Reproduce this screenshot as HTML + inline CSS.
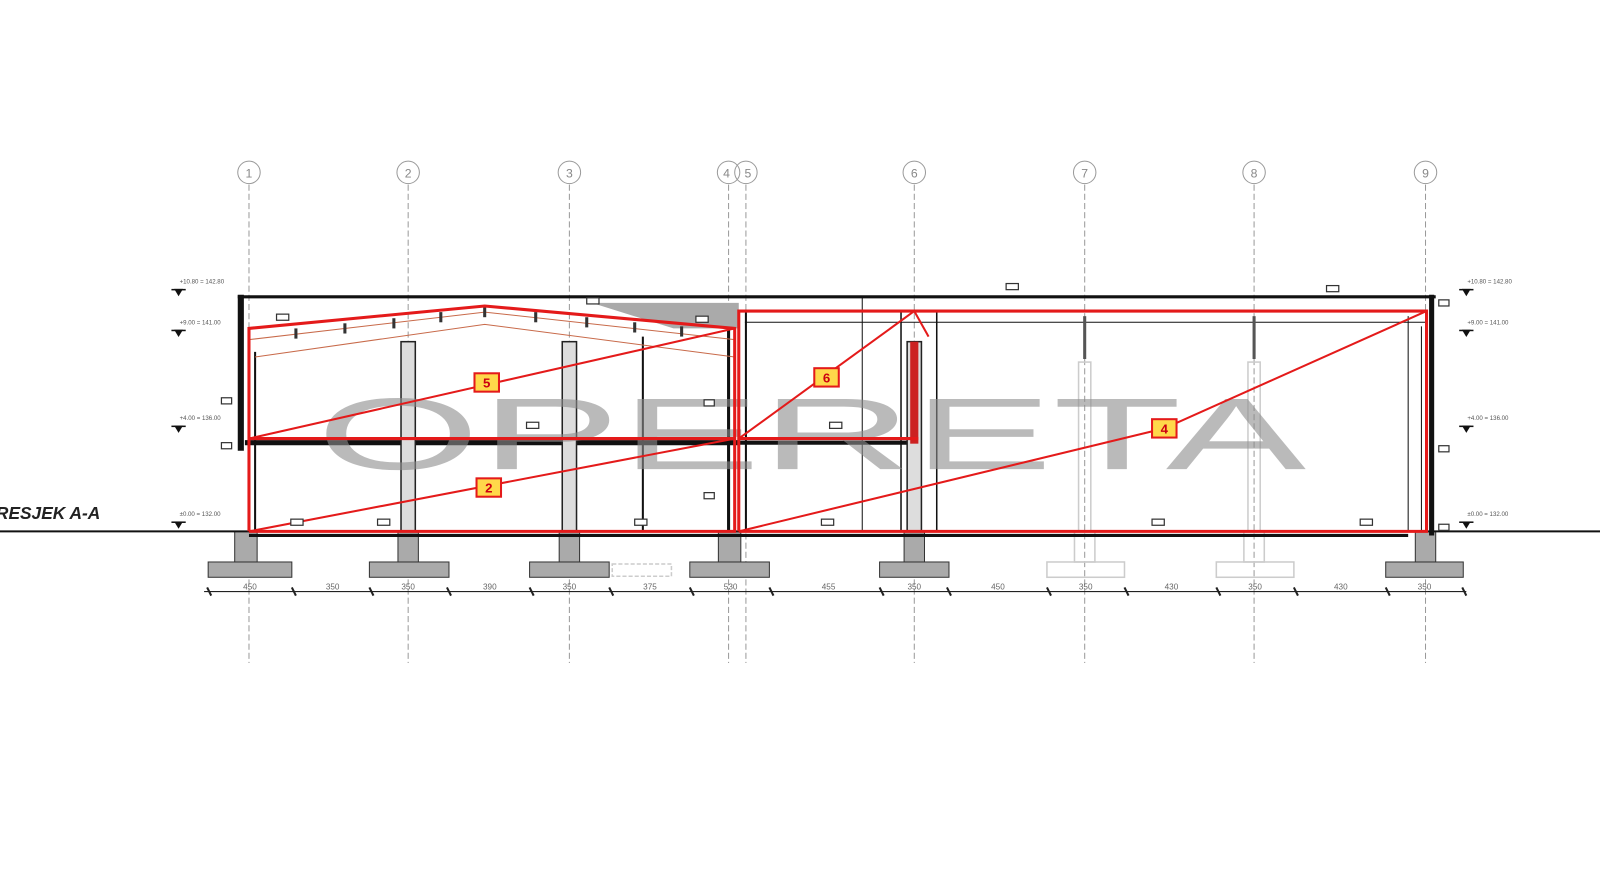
<!DOCTYPE html>
<html><head><meta charset="utf-8"><style>
html,body{margin:0;padding:0;background:#fff;width:1600px;height:870px;overflow:hidden}
svg{display:block}
text{font-family:"Liberation Sans",sans-serif}
</style></head><body>
<svg width="1600" height="870" viewBox="0 0 1568 853" preserveAspectRatio="none" xmlns="http://www.w3.org/2000/svg">
<!-- grid axes -->
<g stroke="#9a9a9a" stroke-width="1" fill="none">
<g stroke-dasharray="6,3">
<line x1="244" y1="181" x2="244" y2="650"/><line x1="400" y1="181" x2="400" y2="650"/>
<line x1="558" y1="181" x2="558" y2="650"/><line x1="714" y1="181" x2="714" y2="650"/>
<line x1="731" y1="181" x2="731" y2="650"/><line x1="896" y1="181" x2="896" y2="650"/>
<line x1="1063" y1="181" x2="1063" y2="650"/><line x1="1229" y1="181" x2="1229" y2="650"/>
<line x1="1397" y1="181" x2="1397" y2="650"/>
</g>
<circle cx="244" cy="169" r="11"/><circle cx="400" cy="169" r="11"/><circle cx="558" cy="169" r="11"/>
<circle cx="714" cy="169" r="11"/><circle cx="731" cy="169" r="11"/><circle cx="896" cy="169" r="11"/>
<circle cx="1063" cy="169" r="11"/><circle cx="1229" cy="169" r="11"/><circle cx="1397" cy="169" r="11"/>
</g>
<g font-size="12" fill="#888" text-anchor="middle">
<text x="244" y="174">1</text><text x="400" y="174">2</text><text x="558" y="174">3</text>
<text x="712" y="174">4</text><text x="733" y="174">5</text><text x="896" y="174">6</text>
<text x="1063" y="174">7</text><text x="1229" y="174">8</text><text x="1397" y="174">9</text>
</g>

<!-- footings -->
<g fill="#aaa" stroke="#333" stroke-width="1">
<rect x="204" y="551" width="82" height="15"/><rect x="362" y="551" width="78" height="15"/>
<rect x="519" y="551" width="78" height="15"/><rect x="676" y="551" width="78" height="15"/>
<rect x="862" y="551" width="68" height="15"/><rect x="1358" y="551" width="76" height="15"/>
<rect x="230" y="521" width="22" height="30"/><rect x="390" y="521" width="20" height="30"/>
<rect x="548" y="521" width="20" height="30"/><rect x="704" y="521" width="22" height="30"/>
<rect x="886" y="521" width="20" height="30"/><rect x="1387" y="521" width="20" height="30"/>
</g>
<g fill="none" stroke="#ccc" stroke-width="1.5">
<rect x="1026" y="551" width="76" height="15"/><rect x="1053" y="521" width="20" height="30"/>
<rect x="1192" y="551" width="76" height="15"/><rect x="1219" y="521" width="20" height="30"/>
<rect x="600" y="553" width="58" height="12" stroke-dasharray="4,2"/>
</g>

<!-- dimension line -->
<line x1="200" y1="580" x2="1437" y2="580" stroke="#222" stroke-width="1.2"/>
<g stroke="#222" stroke-width="2">
<line x1="203" y1="576" x2="207" y2="584"/><line x1="286" y1="576" x2="290" y2="584"/>
<line x1="362" y1="576" x2="366" y2="584"/><line x1="438" y1="576" x2="442" y2="584"/>
<line x1="519" y1="576" x2="523" y2="584"/><line x1="597" y1="576" x2="601" y2="584"/>
<line x1="676" y1="576" x2="680" y2="584"/><line x1="754" y1="576" x2="758" y2="584"/>
<line x1="862" y1="576" x2="866" y2="584"/><line x1="928" y1="576" x2="932" y2="584"/>
<line x1="1026" y1="576" x2="1030" y2="584"/><line x1="1102" y1="576" x2="1106" y2="584"/>
<line x1="1192" y1="576" x2="1196" y2="584"/><line x1="1268" y1="576" x2="1272" y2="584"/>
<line x1="1358" y1="576" x2="1362" y2="584"/><line x1="1433" y1="576" x2="1437" y2="584"/>
</g>
<g font-size="8" fill="#666" text-anchor="middle">
<text x="245" y="578">450</text><text x="326" y="578">350</text><text x="400" y="578">350</text>
<text x="480" y="578">390</text><text x="558" y="578">350</text><text x="637" y="578">375</text>
<text x="716" y="578">530</text><text x="812" y="578">455</text><text x="896" y="578">350</text>
<text x="978" y="578">450</text><text x="1064" y="578">350</text><text x="1148" y="578">430</text>
<text x="1230" y="578">350</text><text x="1314" y="578">430</text><text x="1396" y="578">350</text>
</g>

<!-- ground -->
<line x1="0" y1="521" x2="1568" y2="521" stroke="#111" stroke-width="2"/>
<text x="-4" y="509" font-size="17" font-weight="bold" font-style="italic" fill="#222">RESJEK A-A</text>

<!-- building black structure -->
<g stroke="#111" fill="none">
<line x1="233" y1="291" x2="1407" y2="291" stroke-width="3"/>
<line x1="236" y1="289" x2="236" y2="442" stroke-width="6"/>
<line x1="1403" y1="289" x2="1403" y2="525" stroke-width="5"/>
<line x1="240" y1="434" x2="724" y2="434" stroke-width="5"/>
<line x1="724" y1="434" x2="900" y2="434" stroke-width="4"/>
<line x1="244" y1="525" x2="1380" y2="525" stroke-width="3"/>
<line x1="714" y1="322" x2="714" y2="521" stroke-width="3"/>
<line x1="731" y1="305" x2="731" y2="521" stroke-width="2"/>
<line x1="250" y1="345" x2="250" y2="521" stroke-width="2"/>
<line x1="630" y1="330" x2="630" y2="521" stroke-width="2"/>
<line x1="845" y1="291" x2="845" y2="521" stroke-width="1"/>
<line x1="883" y1="305" x2="883" y2="521" stroke-width="1.5"/>
<line x1="918" y1="305" x2="918" y2="521" stroke-width="1.5"/>
<line x1="1380" y1="310" x2="1380" y2="521" stroke-width="1"/>
<line x1="1393" y1="320" x2="1393" y2="521" stroke-width="1"/>
<line x1="730" y1="316" x2="1398" y2="316" stroke-width="1"/>
</g>
<polygon points="580,297 724,297 724,322 660,322" fill="#aaa"/>
<!-- columns -->
<g fill="#ddd" stroke="#222" stroke-width="1.5">
<rect x="393" y="335" width="14" height="186"/><rect x="551" y="335" width="14" height="186"/>
<rect x="889" y="335" width="14" height="186"/>
</g>
<rect x="892" y="335" width="8" height="100" fill="#c22"/>
<g stroke="#555" stroke-width="3"><line x1="1063" y1="310" x2="1063" y2="352"/><line x1="1229" y1="310" x2="1229" y2="352"/></g>
<g stroke="#ccc" stroke-width="1.5" fill="none"><rect x="1057" y="355" width="12" height="166"/><rect x="1223" y="355" width="12" height="166"/></g>
<!-- roof purlins left -->
<g stroke="#c86a4a" stroke-width="1" fill="none">
<polyline points="244,333 475,306 720,333"/>
<polyline points="250,350 475,318 720,350"/>
</g>
<g stroke="#333" stroke-width="3">
<line x1="290" y1="322" x2="290" y2="332"/><line x1="338" y1="317" x2="338" y2="327"/>
<line x1="386" y1="312" x2="386" y2="322"/><line x1="432" y1="306" x2="432" y2="316"/>
<line x1="475" y1="301" x2="475" y2="311"/><line x1="525" y1="306" x2="525" y2="316"/>
<line x1="575" y1="311" x2="575" y2="321"/><line x1="622" y1="316" x2="622" y2="326"/>
<line x1="668" y1="320" x2="668" y2="330"/>
</g>

<!-- watermark -->
<text x="310" y="460" font-size="100" fill="#8d8d8d" opacity="0.6" textLength="970" lengthAdjust="spacingAndGlyphs">OPERETA</text>

<!-- red zones -->
<g stroke="#e41a1a" fill="none" stroke-width="3">
<polyline points="244,521 244,322 475,300 720,322 720,521 244,521"/>
<line x1="244" y1="430" x2="720" y2="430"/>
<polyline points="724,521 724,305 1398,305 1398,521 724,521"/>
<line x1="724" y1="430" x2="900" y2="430"/>
</g>
<g stroke="#e41a1a" fill="none" stroke-width="2">
<line x1="244" y1="430" x2="720" y2="322"/>
<line x1="244" y1="521" x2="720" y2="430"/>
<line x1="724" y1="430" x2="896" y2="305"/>
<line x1="896" y1="305" x2="910" y2="330"/>
<polyline points="724,521 1141,420 1398,305"/>
</g>
<g font-size="13" font-weight="bold" fill="#c01" text-anchor="middle">
<rect x="465" y="366" width="24" height="18" fill="#ffd84a" stroke="#e41a1a" stroke-width="2"/><text x="477" y="380">5</text>
<rect x="467" y="469" width="24" height="18" fill="#ffd84a" stroke="#e41a1a" stroke-width="2"/><text x="479" y="483">2</text>
<rect x="798" y="361" width="24" height="18" fill="#ffd84a" stroke="#e41a1a" stroke-width="2"/><text x="810" y="375">6</text>
<rect x="1129" y="411" width="24" height="18" fill="#ffd84a" stroke="#e41a1a" stroke-width="2"/><text x="1141" y="425">4</text>
</g>

<!-- level markers -->
<g stroke="#111" stroke-width="1.5" fill="#111" font-size="6">
<g transform="translate(168,278)"><line x1="0" y1="6" x2="14" y2="6"/><polygon points="4,6 10,6 7,11"/><text x="8" y="0" stroke="none" fill="#555">+10.80 = 142.80</text></g>
<g transform="translate(168,318)"><line x1="0" y1="6" x2="14" y2="6"/><polygon points="4,6 10,6 7,11"/><text x="8" y="0" stroke="none" fill="#555">+9.00 = 141.00</text></g>
<g transform="translate(168,412)"><line x1="0" y1="6" x2="14" y2="6"/><polygon points="4,6 10,6 7,11"/><text x="8" y="0" stroke="none" fill="#555">+4.00 = 136.00</text></g>
<g transform="translate(168,506)"><line x1="0" y1="6" x2="14" y2="6"/><polygon points="4,6 10,6 7,11"/><text x="8" y="0" stroke="none" fill="#555">±0.00 = 132.00</text></g>
<g transform="translate(1430,278)"><line x1="0" y1="6" x2="14" y2="6"/><polygon points="4,6 10,6 7,11"/><text x="8" y="0" stroke="none" fill="#555">+10.80 = 142.80</text></g>
<g transform="translate(1430,318)"><line x1="0" y1="6" x2="14" y2="6"/><polygon points="4,6 10,6 7,11"/><text x="8" y="0" stroke="none" fill="#555">+9.00 = 141.00</text></g>
<g transform="translate(1430,412)"><line x1="0" y1="6" x2="14" y2="6"/><polygon points="4,6 10,6 7,11"/><text x="8" y="0" stroke="none" fill="#555">+4.00 = 136.00</text></g>
<g transform="translate(1430,506)"><line x1="0" y1="6" x2="14" y2="6"/><polygon points="4,6 10,6 7,11"/><text x="8" y="0" stroke="none" fill="#555">±0.00 = 132.00</text></g>
</g>
<!-- small tags -->
<g fill="#fff" stroke="#333" stroke-width="1.2">
<rect x="271" y="308" width="12" height="6"/><rect x="575" y="292" width="12" height="6"/>
<rect x="682" y="310" width="12" height="6"/><rect x="986" y="278" width="12" height="6"/>
<rect x="1300" y="280" width="12" height="6"/><rect x="516" y="414" width="12" height="6"/>
<rect x="813" y="414" width="12" height="6"/><rect x="285" y="509" width="12" height="6"/>
<rect x="370" y="509" width="12" height="6"/><rect x="622" y="509" width="12" height="6"/>
<rect x="805" y="509" width="12" height="6"/><rect x="1129" y="509" width="12" height="6"/>
<rect x="1333" y="509" width="12" height="6"/><rect x="217" y="390" width="10" height="6"/>
<rect x="217" y="434" width="10" height="6"/><rect x="690" y="392" width="10" height="6"/>
<rect x="690" y="483" width="10" height="6"/><rect x="1410" y="294" width="10" height="6"/>
<rect x="1410" y="437" width="10" height="6"/><rect x="1410" y="514" width="10" height="6"/>
</g>
</svg>
</body></html>
